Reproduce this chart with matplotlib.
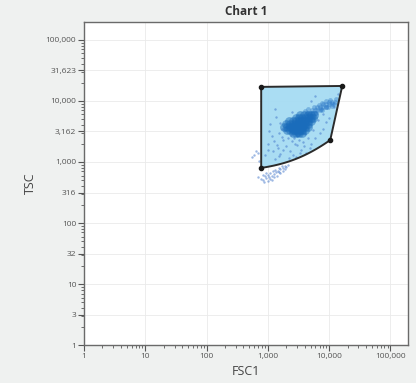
import numpy as np
import matplotlib.pyplot as plt
from matplotlib.patches import PathPatch
from matplotlib.path import Path
from matplotlib.ticker import FixedLocator, LogLocator, NullFormatter

plt.rcParams['font.family'] = ['Open Sans', 'DejaVu Sans']

# gate vertices (FSC1, TSC)
gate_x = [780, 16400, 10450, 780]
gate_y = [17000, 17600, 2290, 800]

# main population (head of the cluster)
core_x = [2600, 2911, 3258, 3646,
          2075, 2322, 2600, 2911, 3258, 3646, 4081,
          1854, 2075, 2322, 2600, 2911, 3258, 3646, 4081, 4567,
          1950, 2322, 2600, 2911, 3258, 3646, 4081, 4567,
          2200, 2600, 2911, 3258, 3646, 4081, 4567, 5112,
          2911, 3258, 3646, 4081, 4567, 5112, 5500,
          3400, 3900, 4567, 5112, 5722,
          2700, 3000, 3400, 2800, 3200, 3500, 3100, 2500, 3800]
core_y = [2990, 2990, 2990, 2990,
          3350, 3350, 3350, 3350, 3350, 3350, 3350,
          3750, 3750, 3750, 3750, 3750, 3750, 3750, 3750, 3750,
          4200, 4200, 4200, 4200, 4200, 4200, 4200, 4200,
          4700, 4700, 4700, 4700, 4700, 4700, 4700, 4700,
          5260, 5260, 5260, 5260, 5260, 5260, 5260,
          5890, 5890, 5890, 5890, 5890,
          3400, 3500, 3600, 3900, 4000, 3300, 3100, 3600, 3900]

# tail running up to the right
tail_x = [4300, 4800, 5300, 5900,
          5200, 5800, 6400, 7000, 7700,
          6400, 7200, 8000, 8800, 9500,
          8000, 8900, 9900, 11000, 12000,
          10000, 11000, 12300,
          4000, 4600, 5600, 6800, 7600, 9000, 10500, 12800,
          5000, 6200, 7500, 9000, 11000, 4600]
tail_y = [6360, 6360, 6360, 6360,
          7100, 7100, 7100, 7100, 7100,
          7960, 7960, 7960, 7960, 7960,
          8910, 8910, 8910, 8910, 8910,
          9620, 9620, 9620,
          6800, 7400, 7900, 8600, 9200, 9800, 10500, 10900,
          5600, 6400, 7300, 8100, 8400, 6000]

# scattered events inside and below the gate
sparse_x = [1300, 1100, 1500, 1800, 1200, 2000, 2300, 2600, 3000, 3500, 4200, 5000,
            6000, 7000, 8000, 9000, 1700, 2100, 2500, 2800, 3200, 3700, 4500, 1400,
            1600, 2200, 2900, 1900, 1600, 5500, 6500, 8000, 10000, 12000, 900, 1000,
            1150, 2400, 2000, 1800, 3300, 3900, 4800, 1300, 2700, 6000, 14000, 5000,
            1000, 1250, 1450, 1700, 1050, 1350, 2500, 3000, 4000, 1550,
            700, 780, 850, 950, 1050, 1150, 1250, 1350, 1450, 1600, 1750, 1900, 2100,
            820, 900, 1000, 1100, 1200, 1300, 1500, 1700, 1400, 1600, 1800, 1000,
            1150, 950, 600, 640, 560, 680, 720, 1250, 1900, 2000, 1500, 1100, 880]
sparse_y = [7500, 4200, 3000, 2300, 1500, 1800, 1500, 1300, 1900, 1600, 1400, 2000,
            2500, 3000, 3500, 4500, 2600, 2500, 2200, 2000, 2300, 2100, 2500, 1900,
            1350, 1150, 1200, 3300, 4400, 3400, 4800, 6000, 5200, 8000, 1300, 2000,
            2700, 2800, 3800, 1600, 1400, 1800, 1700, 1100, 2500, 12000, 13000, 10000,
            1600, 2200, 1700, 3500, 3200, 5500, 6500, 2700, 2900, 1250,
            560, 520, 500, 540, 560, 600, 640, 680, 720, 760, 800, 850, 900,
            620, 580, 620, 660, 700, 750, 800, 870, 600, 650, 700, 480,
            510, 650, 1300, 1500, 1200, 1400, 1050, 560, 760, 820, 680, 530, 470]

x_ticks = [1, 10, 100, 1000, 10000, 100000]
x_labels = ['1', '10', '100', '1,000', '10,000', '100,000']
y_ticks = [1, 3.162, 10, 31.62, 100, 316.2, 1000, 3162, 10000, 31623, 100000]
y_labels = ['1', '3', '10', '32', '100', '316', '1,000', '3,162', '10,000',
            '31,623', '100,000']

fig = plt.figure(figsize=(4.16, 3.83), dpi=100, facecolor='#eff1f0')
ax = fig.add_axes([0.202, 0.099, 0.779, 0.843])
ax.set_facecolor('white')
ax.set_xscale('log')
ax.set_yscale('log')
ax.set_xlim(1, 195000)
ax.set_ylim(1, 195000)

# gate outline: bottom edge is straight in linear units, so it sags on log axes
bottom = Path([(gate_x[2], gate_y[2]), (gate_x[3], gate_y[3])]).interpolated(60)
verts = [(gate_x[0], gate_y[0]), (gate_x[1], gate_y[1])] + \
    [tuple(v) for v in bottom.vertices] + [(gate_x[0], gate_y[0])]
gate_path = Path(verts, closed=True)
ax.add_patch(PathPatch(gate_path, facecolor='#a6dcf3', edgecolor='none',
                       alpha=0.95, zorder=2))

ax.scatter(sparse_x, sparse_y, s=3, color='#3d72c8', alpha=0.5,
           linewidths=0, zorder=3)
ax.scatter(tail_x, tail_y, s=12, color='#2a76c6', alpha=0.4,
           linewidths=0, zorder=3)
ax.scatter(core_x, core_y, s=40, color='#1a6cbb', alpha=0.5,
           linewidths=0, zorder=4)

ax.add_patch(PathPatch(gate_path, facecolor='none', edgecolor='#2b2b2b',
                       linewidth=1.4, zorder=5))
ax.plot(gate_x, gate_y, 'o', color='#1a1a1a', markersize=3, zorder=6)

ax.xaxis.set_major_locator(FixedLocator(x_ticks))
ax.set_xticklabels(x_labels)
ax.yaxis.set_major_locator(FixedLocator(y_ticks))
ax.set_yticklabels(y_labels)
ax.xaxis.set_minor_locator(LogLocator(base=10, subs=np.arange(2, 10), numticks=20))
ax.yaxis.set_minor_locator(LogLocator(base=10, subs=np.arange(2, 10), numticks=20))
ax.xaxis.set_minor_formatter(NullFormatter())
ax.yaxis.set_minor_formatter(NullFormatter())

ax.tick_params(which='major', length=4, width=0.8, color='#555555',
               labelsize=6, labelcolor='#555555', pad=1.5)
ax.tick_params(which='minor', length=2, width=0.6, color='#555555')
ax.grid(True, which='major', color='#eaeaea', linewidth=0.6, zorder=0)
ax.set_axisbelow(True)
for s in ax.spines.values():
    s.set_color('#6a6a6a')
    s.set_linewidth(1.0)

ax.set_title('Chart 1', fontsize=8.5, fontweight='bold', color='#333333', pad=5)
ax.set_xlabel('FSC1', fontsize=9, color='#444444', labelpad=4)
ax.set_ylabel('TSC', fontsize=9, color='#444444', labelpad=6)

fig.savefig('out.png', dpi=100, facecolor=fig.get_facecolor())
